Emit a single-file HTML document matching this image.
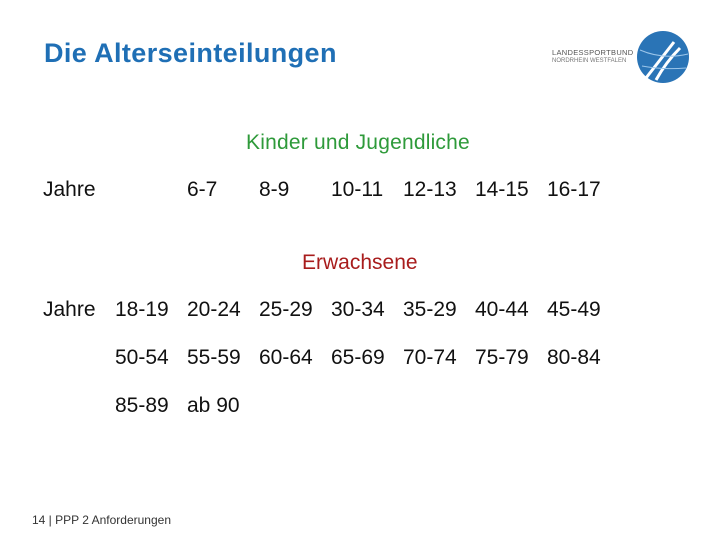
<!DOCTYPE html>
<html><head><meta charset="utf-8"><style>
body{margin:0;width:720px;height:540px;background:#fff;position:relative;overflow:hidden;font-family:"Liberation Sans",sans-serif}
.t{position:absolute;font-size:21px;color:#111;line-height:24px;white-space:nowrap}
</style></head><body>
<div class="t" style="left:44px;top:38px;font-size:27px;line-height:30px;color:#1f6fb5;font-weight:bold;letter-spacing:0.4px">Die Alterseinteilungen</div>
<div style="position:absolute;left:552px;top:30px;width:140px;height:54px">
<div style="position:absolute;left:0;top:18px;font-size:7.5px;color:#555;letter-spacing:0.3px">LANDESSPORTBUND</div>
<div style="position:absolute;left:0;top:28px;font-size:6px;color:#777">NORDRHEIN WESTFALEN</div>
<svg style="position:absolute;left:84px;top:0" width="54" height="54"><circle cx="27" cy="27" r="26" fill="#2a74b6"/><path d="M10 48 Q24 30 38 12 M20 50 Q30 32 44 18" stroke="#fff" stroke-width="3" fill="none"/><path d="M4 20 Q27 30 52 24 M6 36 Q27 40 50 38" stroke="#9cc6ea" stroke-width="1" fill="none"/></svg>
</div>
<div class="t" style="left:246px;top:131px;color:#2e9a3a;letter-spacing:0.2px">Kinder und Jugendliche</div>
<div class="t" style="left:302px;top:251px;color:#a81c1c">Erwachsene</div>
<div id="g"></div>
<div class="t" style="left:32px;top:513px;font-size:12px;line-height:14px;color:#333">14 | PPP 2 Anforderungen</div>
<script>
const rows=[[189,[["Jahre",43],["6-7",187],["8-9",259],["10-11",331],["12-13",403],["14-15",475],["16-17",547]]],
[309,[["Jahre",43],["18-19",115],["20-24",187],["25-29",259],["30-34",331],["35-29",403],["40-44",475],["45-49",547]]],
[357,[["50-54",115],["55-59",187],["60-64",259],["65-69",331],["70-74",403],["75-79",475],["80-84",547]]],
[405,[["85-89",115],["ab 90",187]]]];
const g=document.getElementById('g');
rows.forEach(([y,cells])=>cells.forEach(([s,x])=>{const d=document.createElement('div');d.className='t';d.style.left=x+'px';d.style.top=(y-11)+'px';d.textContent=s;


g.appendChild(d);}));
</script>
</body></html>
